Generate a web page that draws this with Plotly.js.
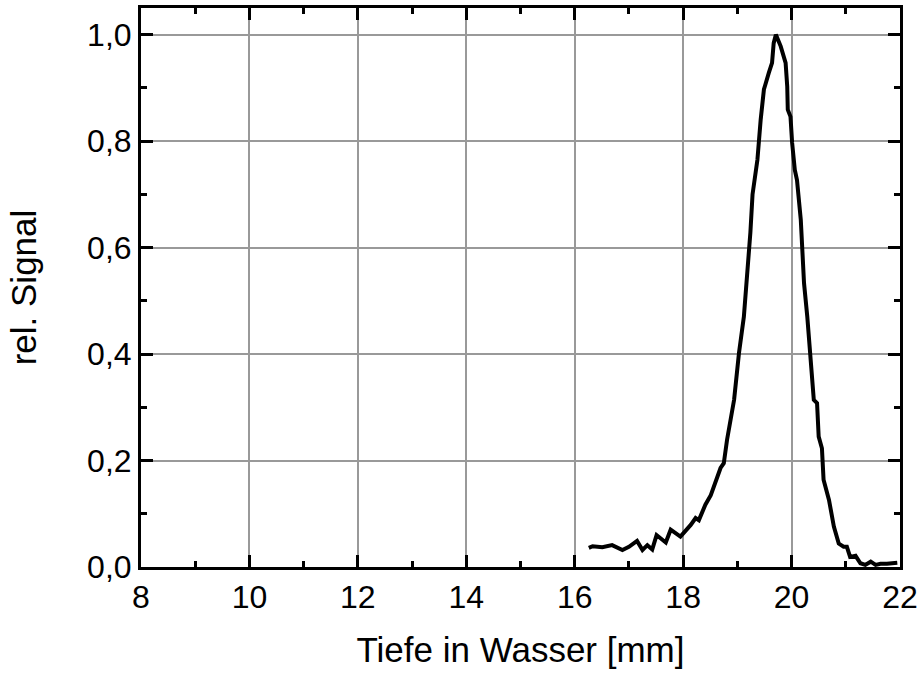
<!DOCTYPE html>
<html><head><meta charset="utf-8">
<script src="https://cdn.plot.ly/plotly-3.0.1.min.js"></script>
<style>body{margin:0;background:#fff}#c{width:920px;height:673px}</style>
</head><body><div id="c"></div>
<script>
const depth = [16.26,16.33,16.51,16.69,16.88,17.0,17.15,17.25,17.34,17.43,17.51,17.68,17.77,17.95,18.14,18.23,18.29,18.41,18.51,18.6,18.69,18.75,18.81,18.94,19.03,19.12,19.18,19.24,19.28,19.37,19.43,19.49,19.58,19.64,19.67,19.71,19.8,19.89,19.92,19.93,19.98,20.01,20.06,20.1,20.17,20.23,20.29,20.33,20.37,20.41,20.47,20.5,20.56,20.59,20.69,20.78,20.87,20.96,21.02,21.08,21.18,21.27,21.36,21.46,21.55,21.64,21.76,21.89,21.95];
const signal = [0.036,0.039,0.037,0.041,0.032,0.038,0.049,0.032,0.041,0.033,0.060,0.046,0.070,0.057,0.079,0.092,0.088,0.117,0.135,0.158,0.186,0.195,0.239,0.314,0.402,0.47,0.54,0.628,0.70,0.765,0.84,0.897,0.928,0.947,0.984,1.0,0.978,0.947,0.903,0.859,0.846,0.797,0.746,0.727,0.652,0.533,0.47,0.42,0.376,0.314,0.308,0.245,0.223,0.164,0.126,0.076,0.044,0.038,0.038,0.019,0.021,0.007,0.004,0.010,0.004,0.006,0.006,0.007,0.008];
const xTitle = 'Tiefe in Wasser [mm]';
const yTitle = 'rel. Signal';

const tickFont = {family:'Liberation Sans, Arial, sans-serif', size:32, color:'#000'};
const titleFont = {family:'Liberation Sans, Arial, sans-serif', size:35, color:'#000'};
const axisCommon = {
  showline:true, linecolor:'#000', linewidth:3, mirror:'ticks',
  ticks:'inside', ticklen:12, tickwidth:3, tickcolor:'#000',
  showgrid:true, gridcolor:'#999', gridwidth:2,
  zeroline:false, tickfont:tickFont
};
Plotly.newPlot('c', [{
  x: depth, y: signal, type:'scatter', mode:'lines',
  line:{color:'#000', width:4}
}], {
  width:920, height:673,
  margin:{l:141, r:20, t:8, b:106},
  paper_bgcolor:'#fff', plot_bgcolor:'#fff',
  separators:',.',
  showlegend:false,
  font:tickFont,
  xaxis: Object.assign({}, axisCommon, {
    range:[8,22], dtick:2, tick0:8,
    minor:{dtick:1, ticks:'inside', ticklen:6, tickwidth:3, tickcolor:'#000', showgrid:false},
    title:{text:xTitle, font:titleFont, standoff:24}
  }),
  yaxis: Object.assign({}, axisCommon, {
    range:[0,1.05], dtick:0.2, tick0:0, tickformat:'.1f',
    minor:{dtick:0.1, ticks:'inside', ticklen:6, tickwidth:3, tickcolor:'#000', showgrid:false},
    title:{text:yTitle, font:titleFont, standoff:40}
  })
}, {staticPlot:true});
</script></body></html>
